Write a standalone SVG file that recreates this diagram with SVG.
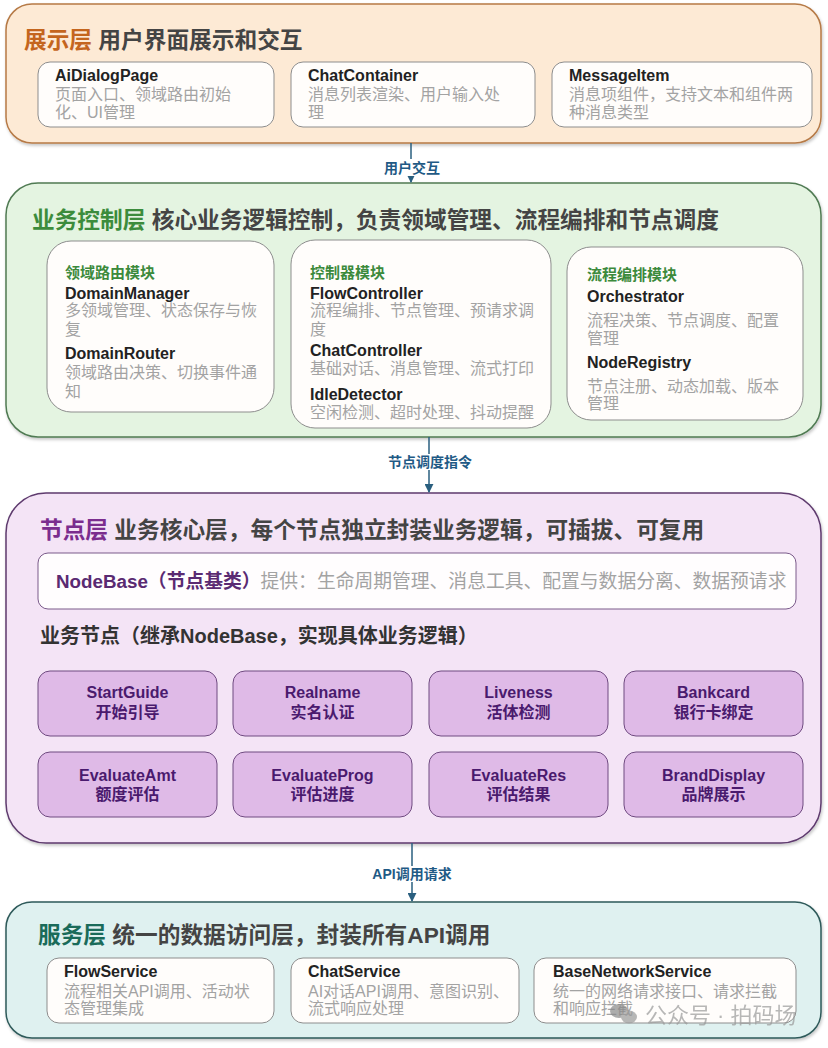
<svg xmlns="http://www.w3.org/2000/svg" width="828" height="1048" viewBox="0 0 828 1048">
<defs>
<filter id="sh" x="-5%" y="-5%" width="110%" height="115%">
<feDropShadow dx="1" dy="2" stdDeviation="1.5" flood-color="#000" flood-opacity="0.22"/>
</filter>
<marker id="ah" viewBox="0 0 10 10" refX="9" refY="5" markerWidth="9" markerHeight="9" markerUnits="userSpaceOnUse" orient="auto">
<path d="M0,0 L10,5 L0,10 z" fill="#2a5f7f"/>
</marker>
</defs>
<style>
text{font-family:"Liberation Sans","Noto Sans CJK SC",sans-serif;}
.lt{font-size:22.7px;font-weight:bold;fill:#444;}
.box{fill:#fffdfb;stroke:#8d8d8d;stroke-width:1;}
.bt{font-size:16px;font-weight:bold;fill:#222;}
.bd{font-size:16px;fill:#a3a3a3;}
.mh{font-size:15px;font-weight:bold;fill:#3c8a3c;}
.node{fill:#dfbae7;stroke:#6f4a80;stroke-width:1;}
.nt{font-size:16px;font-weight:bold;fill:#4a1a6e;text-anchor:middle;}
.conn{stroke:#2a5f7f;stroke-width:1.5;fill:none;}
.cl{font-size:14px;font-weight:bold;fill:#1f5a85;text-anchor:middle;}
</style>
<rect width="828" height="1048" fill="#ffffff"/>

<g id="layer-presentation">
<rect x="6" y="4" width="815" height="139" rx="26" fill="#fdead5" stroke="#b67a46" stroke-width="1.5" filter="url(#sh)"/>
<text x="24" y="48" class="lt"><tspan fill="#c4651e">展示层</tspan> 用户界面展示和交互</text>
<g id="AiDialogPage">
<rect x="38" y="62" width="236" height="65" rx="12" class="box"/>
<text x="55" y="81" class="bt">AiDialogPage</text>
<text x="55" y="100" class="bd">页面入口、领域路由初始</text>
<text x="55" y="118" class="bd">化、UI管理</text>
</g>
<g id="ChatContainer">
<rect x="291" y="62" width="244" height="65" rx="12" class="box"/>
<text x="308" y="81" class="bt">ChatContainer</text>
<text x="308" y="100" class="bd">消息列表渲染、用户输入处</text>
<text x="308" y="118" class="bd">理</text>
</g>
<g id="MessageItem">
<rect x="552" y="62" width="260" height="65" rx="12" class="box"/>
<text x="569" y="81" class="bt">MessageItem</text>
<text x="569" y="100" class="bd">消息项组件，支持文本和组件两</text>
<text x="569" y="118" class="bd">种消息类型</text>
</g>
</g>

<g id="layer-control">
<rect x="6" y="183" width="815" height="254" rx="32" fill="#e4f4e1" stroke="#4f7a52" stroke-width="1.5" filter="url(#sh)"/>
<text x="32" y="228" class="lt"><tspan fill="#3c8c3c">业务控制层</tspan> 核心业务逻辑控制，负责领域管理、流程编排和节点调度</text>
<g id="DomainModule">
<rect x="47" y="241" width="227" height="171" rx="24" class="box" stroke="#5f7a5f"/>
<text x="65" y="278" class="mh">领域路由模块</text>
<text x="65" y="299" class="bt">DomainManager</text>
<text x="65" y="316" class="bd">多领域管理、状态保存与恢</text>
<text x="65" y="335" class="bd">复</text>
<text x="65" y="359" class="bt">DomainRouter</text>
<text x="65" y="378" class="bd">领域路由决策、切换事件通</text>
<text x="65" y="397" class="bd">知</text>
</g>
<g id="ControllerModule">
<rect x="291" y="240" width="260" height="188" rx="24" class="box" stroke="#5f7a5f"/>
<text x="310" y="278" class="mh">控制器模块</text>
<text x="310" y="299" class="bt">FlowController</text>
<text x="310" y="316" class="bd">流程编排、节点管理、预请求调</text>
<text x="310" y="335" class="bd">度</text>
<text x="310" y="356" class="bt">ChatController</text>
<text x="310" y="374" class="bd">基础对话、消息管理、流式打印</text>
<text x="310" y="400" class="bt">IdleDetector</text>
<text x="310" y="418" class="bd">空闲检测、超时处理、抖动提醒</text>
</g>
<g id="OrchestrationModule">
<rect x="567" y="247" width="236" height="173" rx="24" class="box" stroke="#5f7a5f"/>
<text x="587" y="280" class="mh">流程编排模块</text>
<text x="587" y="302" class="bt">Orchestrator</text>
<text x="587" y="326" class="bd">流程决策、节点调度、配置</text>
<text x="587" y="344" class="bd">管理</text>
<text x="587" y="368" class="bt">NodeRegistry</text>
<text x="587" y="392" class="bd">节点注册、动态加载、版本</text>
<text x="587" y="409" class="bd">管理</text>
</g>
</g>

<g id="layer-node">
<rect x="6" y="493" width="815" height="350" rx="40" fill="#f4e4f6" stroke="#5e3a6e" stroke-width="1.5" filter="url(#sh)"/>
<text x="40" y="538" class="lt"><tspan fill="#7b2d8e">节点层</tspan> 业务核心层，每个节点独立封装业务逻辑，可插拔、可复用</text>
<g id="NodeBase">
<rect x="38" y="553" width="758" height="56" rx="10" fill="#fffdfe" stroke="#7a5a8a" stroke-width="1"/>
<text x="56" y="588" style="font-size:18.8px;font-weight:bold;fill:#5a2a72">NodeBase（节点基类）<tspan style="font-weight:normal;fill:#a3a3a3">提供：生命周期管理、消息工具、配置与数据分离、数据预请求</tspan></text>
</g>
<text x="40" y="643" style="font-size:20px;font-weight:bold;fill:#333">业务节点（继承NodeBase，实现具体业务逻辑）</text>
<g id="StartGuide"><rect x="38" y="671" width="179" height="65" rx="12" class="node"/><text x="127.5" y="698" class="nt">StartGuide</text><text x="127.5" y="718" class="nt">开始引导</text></g>
<g id="Realname"><rect x="233" y="671" width="179" height="65" rx="12" class="node"/><text x="322.5" y="698" class="nt">Realname</text><text x="322.5" y="718" class="nt">实名认证</text></g>
<g id="Liveness"><rect x="429" y="671" width="179" height="65" rx="12" class="node"/><text x="518.5" y="698" class="nt">Liveness</text><text x="518.5" y="718" class="nt">活体检测</text></g>
<g id="Bankcard"><rect x="624" y="671" width="179" height="65" rx="12" class="node"/><text x="713.5" y="698" class="nt">Bankcard</text><text x="713.5" y="718" class="nt">银行卡绑定</text></g>
<g id="EvaluateAmt"><rect x="38" y="752" width="179" height="65" rx="12" class="node"/><text x="127.5" y="781" class="nt">EvaluateAmt</text><text x="127.5" y="800" class="nt">额度评估</text></g>
<g id="EvaluateProg"><rect x="233" y="752" width="179" height="65" rx="12" class="node"/><text x="322.5" y="781" class="nt">EvaluateProg</text><text x="322.5" y="800" class="nt">评估进度</text></g>
<g id="EvaluateRes"><rect x="429" y="752" width="179" height="65" rx="12" class="node"/><text x="518.5" y="781" class="nt">EvaluateRes</text><text x="518.5" y="800" class="nt">评估结果</text></g>
<g id="BrandDisplay"><rect x="624" y="752" width="179" height="65" rx="12" class="node"/><text x="713.5" y="781" class="nt">BrandDisplay</text><text x="713.5" y="800" class="nt">品牌展示</text></g>
</g>

<g id="layer-service">
<rect x="6" y="902" width="815" height="136" rx="26" fill="#dff1f0" stroke="#2e5a5a" stroke-width="1.5" filter="url(#sh)"/>
<text x="38" y="943" class="lt"><tspan fill="#1a6b5a">服务层</tspan> 统一的数据访问层，封装所有API调用</text>
<g id="FlowService">
<rect x="47" y="958" width="227" height="65" rx="12" class="box"/>
<text x="64" y="977" class="bt">FlowService</text>
<text x="64" y="997" class="bd">流程相关API调用、活动状</text>
<text x="64" y="1014" class="bd">态管理集成</text>
</g>
<g id="ChatService">
<rect x="291" y="958" width="228" height="65" rx="12" class="box"/>
<text x="308" y="977" class="bt">ChatService</text>
<text x="308" y="997" class="bd">AI对话API调用、意图识别、</text>
<text x="308" y="1014" class="bd">流式响应处理</text>
</g>
<g id="BaseNetworkService">
<rect x="534" y="958" width="262" height="65" rx="12" class="box"/>
<text x="553" y="977" class="bt">BaseNetworkService</text>
<text x="553" y="997" class="bd">统一的网络请求接口、请求拦截</text>
<text x="553" y="1014" class="bd">和响应拦截</text>
</g>
</g>

<g id="connectors">
<line x1="411" y1="143" x2="411" y2="182" class="conn" marker-end="url(#ah)"/>
<rect x="383" y="159" width="58" height="17" fill="#ffffff"/>
<text x="412" y="173" class="cl">用户交互</text>
<line x1="429" y1="437" x2="429" y2="492" class="conn" marker-end="url(#ah)"/>
<rect x="386" y="454" width="88" height="16" fill="#ffffff"/>
<text x="430" y="467" class="cl">节点调度指令</text>
<line x1="412" y1="843" x2="412" y2="901" class="conn" marker-end="url(#ah)"/>
<rect x="369" y="866" width="86" height="16" fill="#ffffff"/>
<text x="412" y="879" class="cl">API调用请求</text>
</g>

<g opacity="0.7">
<ellipse cx="619" cy="1011" rx="9" ry="7" fill="#8a8a8a"/>
<ellipse cx="629" cy="1017" rx="8" ry="6.5" fill="#9a9a9a"/>
<text x="645" y="1023" style="font-size:22px;fill:#9a9a9a">公众号 · 拍码场</text>
</g>
</svg>
